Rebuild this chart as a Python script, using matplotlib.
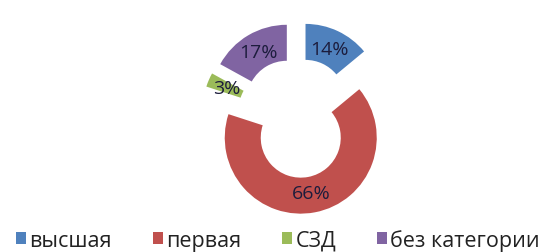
import matplotlib
matplotlib.use("Agg")
import matplotlib.pyplot as plt
from matplotlib.patches import Patch

# ========= Data =========
categories = ["высшая", "первая", "СЗД", "без категории"]
shares = [14, 66, 3, 17]
colors = ["#4F81BD", "#C0504D", "#9BBB59", "#8064A2"]

plt.rcParams["font.family"] = ["Open Sans", "DejaVu Sans"]

W, H = 543, 253
fig = plt.figure(figsize=(W / 100, H / 100), dpi=100)
ax = fig.add_axes([0, 0, 1, 1])

# pixel-based layout for the donut
cx, cy, r = 297, H - 119, 76
wedges, texts, autotexts = ax.pie(
    shares,
    colors=colors,
    startangle=90,
    counterclock=False,
    center=(cx, cy),
    radius=r,
    explode=[20] * len(shares),
    autopct="%d%%",
    pctdistance=0.74,
    wedgeprops=dict(width=36, edgecolor="none"),
    textprops=dict(color="#1c1c3c", fontsize=14),
)
ax.set_xlim(0, W)
ax.set_ylim(0, H)
ax.set_aspect("equal")
ax.axis("off")

handles = [Patch(facecolor=c, edgecolor="none") for c in colors]
fig.legend(handles, categories, loc="center", bbox_to_anchor=(0.512, 1 - 241 / H),
           ncol=4, frameon=False, fontsize=15.5, handlelength=0.47, handleheight=0.47,
           handletextpad=0.15, columnspacing=1.9, labelcolor="#222222",
           borderaxespad=0, borderpad=0)

fig.savefig("out.png", dpi=100)
plt.close(fig)
